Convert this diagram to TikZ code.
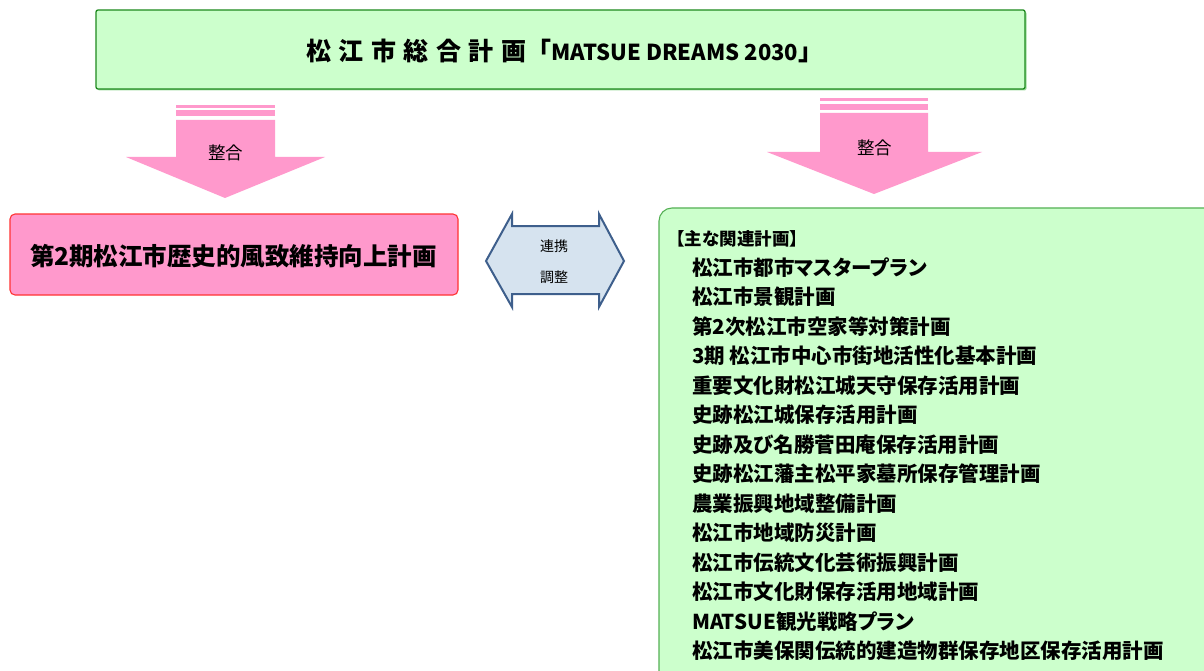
\documentclass[tikz,border=0pt]{standalone}
\usepackage{fontspec}
\setmainfont{Noto Sans CJK JP}
\newfontfamily\jpp[RawFeature=+palt]{Noto Sans CJK JP}
\definecolor{lgreen}{HTML}{CCFFCC}
\definecolor{dgreen}{HTML}{1E8A1E}
\definecolor{mgreen}{HTML}{55B055}
\definecolor{shgreen}{HTML}{9EDC9E}
\definecolor{pinkf}{HTML}{FF99CC}
\definecolor{redb}{HTML}{FF3333}
\definecolor{bluef}{HTML}{D6E3EF}
\definecolor{blueb}{HTML}{3E5F8C}
\tikzset{
  pinkshape/.style={fill=pinkf, draw=none},
  item/.style={anchor=west, inner sep=0pt, font=\jpp\bfseries\fontsize{20.5}{24}\selectfont},
  arrlabel/.style={inner sep=0pt, font=\fontsize{17.5}{20}\selectfont},
  dlabel/.style={inner sep=0pt, font=\fontsize{14}{16}\selectfont},
}
\newcommand{\tg}{\hspace{7.5pt}}
\begin{document}
\begin{tikzpicture}[x=1pt,y=-1pt]
\useasboundingbox (0,0) rectangle (1204,671);
\clip (0,0) rectangle (1204,671);
\fill[white] (0,0) rectangle (1204,671);
% top box
\fill[shgreen, rounded corners=2pt] (97.5,11.5) rectangle (1026.5,90.5);
\draw[fill=lgreen, draw=dgreen, line width=1.3pt, rounded corners=2pt] (96,10) rectangle (1025,89);
\node[inner sep=0pt, anchor=west, font=\bfseries\fontsize{25}{28}\selectfont] (title) at (306,51)
  {松\tg 江\tg 市\tg 総\tg 合\tg 計\tg 画「{\fontsize{22}{26}\selectfont MATSUE DREAMS 2030}」};
% left arrow
\fill[pinkshape] (176,105) rectangle (275,108);
\fill[pinkshape] (176,110) rectangle (275,116);
\fill[pinkshape] (176,120) -- (275,120) -- (275,157) -- (325,157) -- (225,198) -- (126,157) -- (176,157) -- cycle;
\node[arrlabel] (la) at (225.5,153) {整合};
% right arrow
\fill[pinkshape] (820,98) rectangle (928,101);
\fill[pinkshape] (820,104) rectangle (928,110);
\fill[pinkshape] (820,113) -- (928,113) -- (928,152) -- (982,152) -- (874,194) -- (767,152) -- (820,152) -- cycle;
\node[arrlabel] (ra) at (874.5,148) {整合};
% left pink box
\draw[fill=pinkf, draw=redb, line width=1.1pt, rounded corners=5pt] (10,214) rectangle (458,295);
\node[inner sep=0pt, font=\bfseries\fontsize{24.5}{28}\selectfont] (hist) at (233.5,256) {第2期松江市歴史的風致維持向上計画};
% double arrow
\draw[fill=bluef, draw=blueb, line width=2pt, line join=miter]
  (486,261) -- (512,214) -- (512,226) -- (599,226) -- (599,214) -- (624,261)
  -- (599,307) -- (599,294) -- (512,294) -- (512,307) -- cycle;
\node[dlabel] (d1) at (554,246) {連携};
\node[dlabel] (d2) at (554,277) {調整};
% right green box
\draw[fill=lgreen, draw=mgreen, line width=1.1pt, rounded corners=13pt] (659,208) rectangle (1240,700);
\node[anchor=west, inner sep=0pt, font=\jpp\bfseries\fontsize{17.5}{20}\selectfont] (hdr) at (676,239) {【主な関連計画】};
\node[item] (i1) at (692,267.5) {松江市都市マスタープラン};
\node[item] (i2) at (692,297) {松江市景観計画};
\node[item] (i3) at (692,326.5) {第2次松江市空家等対策計画};
\node[item] (i4) at (692,356) {3期 松江市中心市街地活性化基本計画};
\node[item] (i5) at (692,385.5) {重要文化財松江城天守保存活用計画};
\node[item] (i6) at (692,415) {史跡松江城保存活用計画};
\node[item] (i7) at (692,444.5) {史跡及び名勝菅田庵保存活用計画};
\node[item] (i8) at (692,474) {史跡松江藩主松平家墓所保存管理計画};
\node[item] (i9) at (692,503.5) {農業振興地域整備計画};
\node[item] (i10) at (692,533) {松江市地域防災計画};
\node[item] (i11) at (692,562.5) {松江市伝統文化芸術振興計画};
\node[item] (i12) at (692,592) {松江市文化財保存活用地域計画};
\node[item] (i13) at (692,621.5) {MATSUE観光戦略プラン};
\node[item] (i14) at (692,651) {松江市美保関伝統的建造物群保存地区保存活用計画};
\end{tikzpicture}
\end{document}
